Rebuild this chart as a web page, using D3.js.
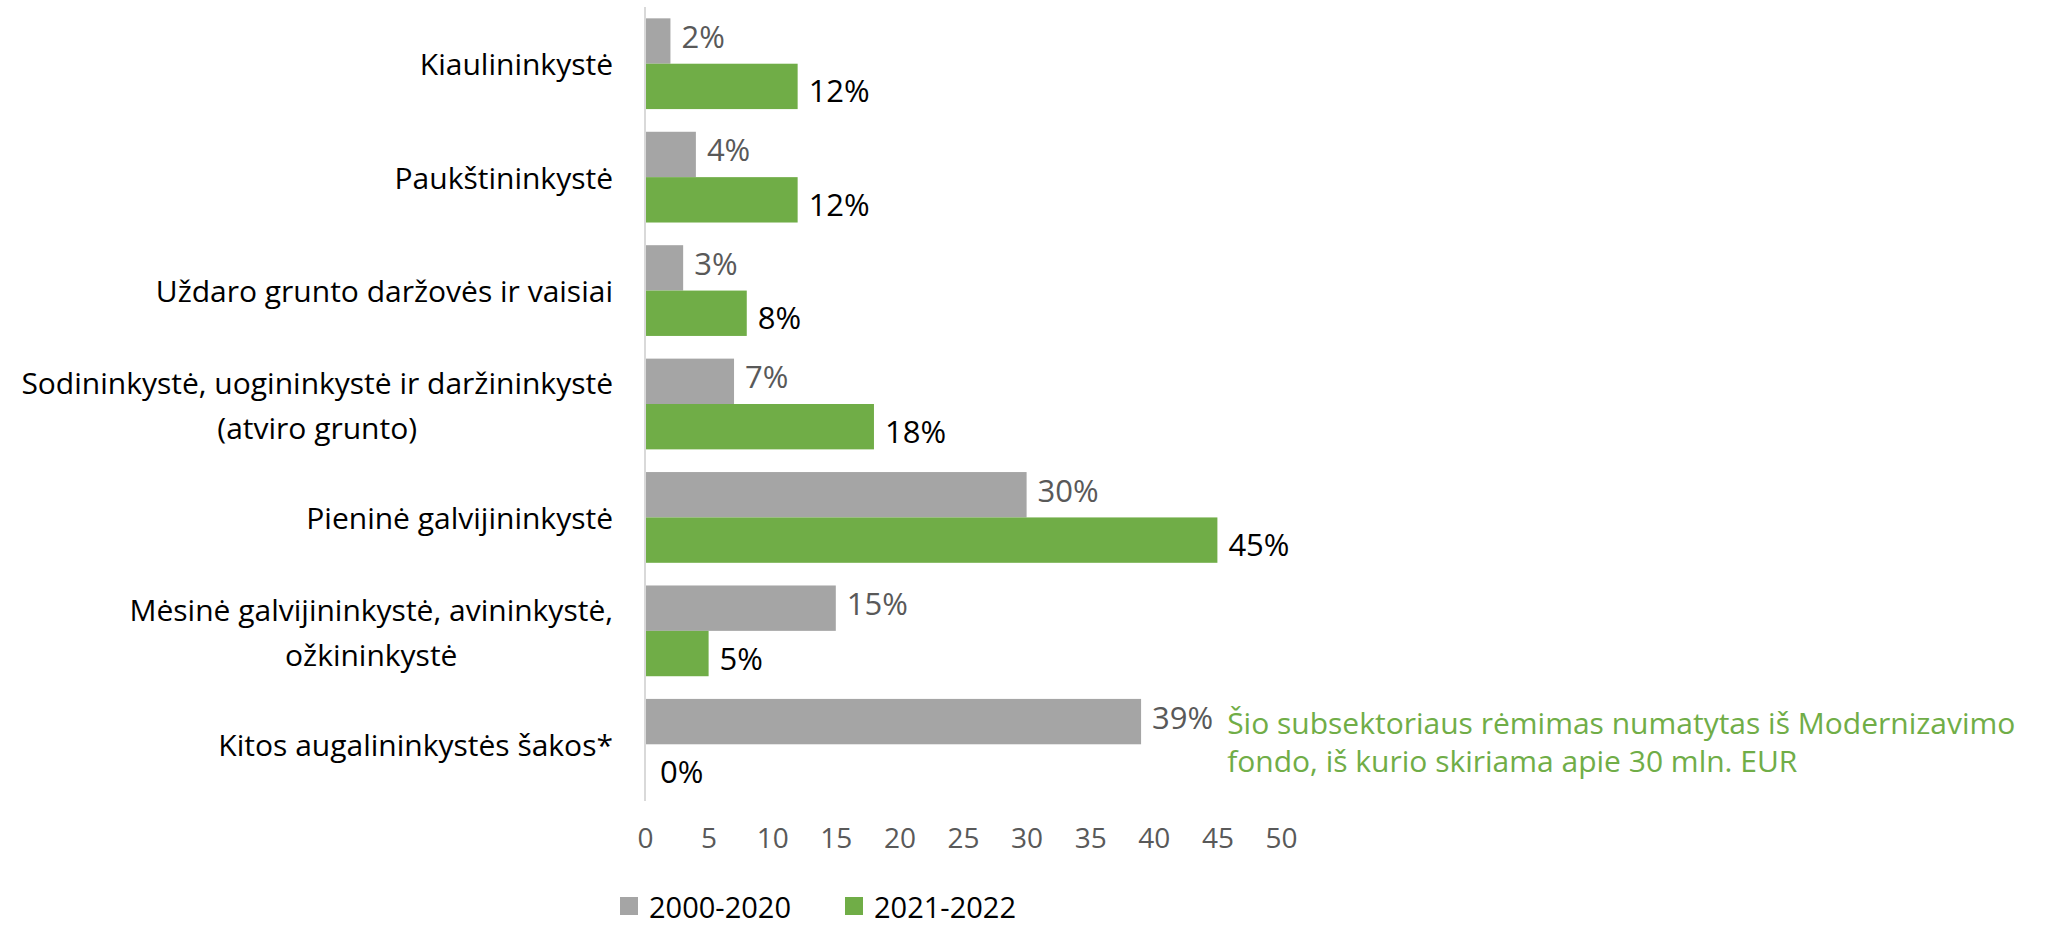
<!DOCTYPE html>
<html>
<head>
<meta charset="utf-8">
<script src="https://cdn.jsdelivr.net/npm/d3@7"></script>
<style>
  body { margin: 0; background: #fff; }
  text { font-family: "Open Sans", "Noto Sans", sans-serif; }
</style>
</head>
<body>
<div id="chart"></div>
<script>
// data
var categories = [
	'Kiaulininkystė',
	'Paukštininkystė',
	'Uždaro grunto daržovės ir vaisiai',
	'Sodininkystė, uogininkystė ir daržininkystė\n(atviro grunto)',
	'Pieninė galvijininkystė',
	'Mėsinė galvijininkystė, avininkystė,\nožkininkystė',
	'Kitos augalininkystės šakos*'
];
var seriesNames = ['2000-2020', '2021-2022'];
var values2000 = [2, 4, 3, 7, 30, 15, 39];
var values2021 = [12, 12, 8, 18, 45, 5, 0];
var xTicks = [0, 5, 10, 15, 20, 25, 30, 35, 40, 45, 50];
var noteLines = ['Šio subsektoriaus rėmimas numatytas iš Modernizavimo', 'fondo, iš kurio skiriama apie 30 mln. EUR'];

var CONFIG = { width: 2065, height: 926, left: 645, right: 1281, top: 7, bottom: 801 };
var colors = ['#a5a5a5', '#70ad47'];
var labelColors = ['#595959', '#000000'];

var svg = d3
	.select('#chart')
	.append('svg')
	.attr('width', CONFIG.width)
	.attr('height', CONFIG.height);

var x = d3.scaleLinear().domain([0, 50]).range([CONFIG.left, CONFIG.right]);
var y = d3
	.scaleBand()
	.domain(categories)
	.range([CONFIG.top, CONFIG.bottom])
	.paddingInner(0.2)
	.paddingOuter(0.1);
var ySub = d3.scaleBand().domain(seriesNames).range([0, y.bandwidth()]);

var rows = categories.map((c, i) => ({ cat: c, vals: [values2000[i], values2021[i]] }));

// bars + value labels
var groups = svg
	.append('g')
	.selectAll('g')
	.data(rows)
	.join('g')
	.attr('transform', (d) => 'translate(0,' + y(d.cat) + ')');

groups
	.selectAll('rect')
	.data((d) => d.vals.map((v, k) => ({ v, k })))
	.join('rect')
	.attr('x', x(0))
	.attr('y', (d) => ySub(seriesNames[d.k]))
	.attr('width', (d) => x(d.v) - x(0))
	.attr('height', ySub.bandwidth())
	.attr('fill', (d) => colors[d.k]);

groups
	.selectAll('text')
	.data((d) => d.vals.map((v, k) => ({ v, k })))
	.join('text')
	.attr('class', (d) => 'val s' + d.k)
	.attr('x', (d) => x(d.v) + (d.v === 0 ? 15 : 11))
	.attr('y', (d) => ySub(seriesNames[d.k]) + ySub.bandwidth() / 2 + (d.k === 0 ? -5 : 4))
	.attr('dominant-baseline', 'central')
	.attr('font-size', 31)
	.attr('fill', (d) => labelColors[d.k])
	.text((d) => d.v + '%');

// category labels
var catLabels = svg
	.append('g')
	.selectAll('text')
	.data(categories)
	.join('text')
	.attr('font-size', 30)
	.attr('fill', '#000')
	.attr('dominant-baseline', 'central');

catLabels.each(function(c) {
	var lines = c.split('\n');
	var t = d3.select(this);
	var cy = y(c) + y.bandwidth() / 2;
	if (lines.length === 1) {
		t.attr('x', 613).attr('y', cy).attr('text-anchor', 'end').text(c);
		return;
	}
	// measure first line so the block is right aligned, lines centred
	t.text(lines[0]);
	var w = this.getComputedTextLength();
	t.text(null).attr('text-anchor', 'middle');
	lines.forEach((l, k) => {
		t
			.append('tspan')
			.attr('x', 613 - w / 2)
			.attr('y', cy - 22 + k * 45)
			.text(l);
	});
});

// vertical axis line
svg
	.append('line')
	.attr('x1', x(0))
	.attr('x2', x(0))
	.attr('y1', CONFIG.top)
	.attr('y2', CONFIG.bottom)
	.attr('stroke', '#d9d9d9')
	.attr('stroke-width', 2);

// x axis tick labels
var xAxis = svg
	.append('g')
	.attr('transform', 'translate(0,' + CONFIG.bottom + ')')
	.call(d3.axisBottom(x).tickValues(xTicks).tickSize(0).tickPadding(27));
xAxis.select('.domain').remove();
xAxis
	.selectAll('text')
	.attr('font-size', 28)
	.attr('font-family', '"Open Sans", sans-serif')
	.attr('fill', '#595959');

// note next to the 39% label
var lastIdx = 6;
var lastLabel = groups.filter((d, i) => i === lastIdx).select('text.s0').node();
var noteX = lastLabel.getBBox().x + lastLabel.getBBox().width + 14;
var noteY = y(categories[lastIdx]) + ySub(seriesNames[0]) + ySub.bandwidth() / 2;
svg
	.append('text')
	.attr('font-size', 30)
	.attr('fill', '#70ad47')
	.attr('dominant-baseline', 'central')
	.selectAll('tspan')
	.data(noteLines)
	.join('tspan')
	.attr('x', noteX)
	.attr('y', (d, k) => noteY + k * 38)
	.text((d) => d);

// legend
var legend = svg
	.append('g')
	.selectAll('g')
	.data(seriesNames)
	.join('g')
	.attr('transform', (d, k) => 'translate(' + (620 + k * 225) + ',906)');
legend
	.append('rect')
	.attr('x', 0)
	.attr('y', -9)
	.attr('width', 18)
	.attr('height', 18)
	.attr('fill', (d, k) => colors[k]);
legend
	.append('text')
	.attr('x', 29)
	.attr('y', 0)
	.attr('dominant-baseline', 'central')
	.attr('font-size', 29)
	.attr('fill', '#000')
	.text((d) => d);
</script>
</body>
</html>
